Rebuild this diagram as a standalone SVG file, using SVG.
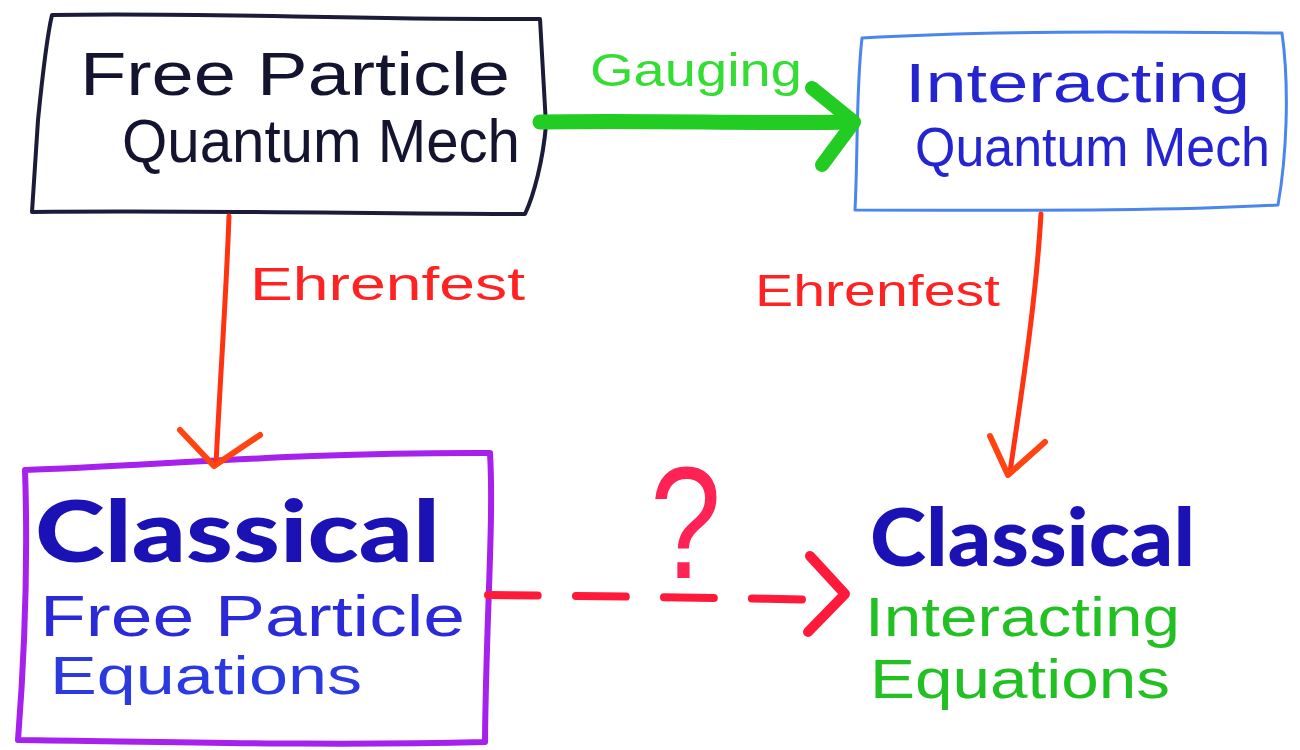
<svg xmlns="http://www.w3.org/2000/svg" width="1300" height="750" viewBox="0 0 1300 750">
<style>
.hand{font-family:"Liberation Sans","DejaVu Sans",sans-serif;}
.bold{font-family:"Lato","Liberation Sans",sans-serif;font-weight:900;}
.box{fill:none;stroke-linejoin:round;stroke-linecap:round;}
.conn{fill:none;stroke-linecap:round;stroke-linejoin:round;}
</style>
<rect width="1300" height="750" fill="#ffffff"/>
<g id="node-free-qm">
<path class="box" stroke="#1c1c3a" stroke-width="4" d="M52,15 C200,12 350,20 540,19 L546,125 C543,160 534,195 525,214 C380,214 200,210 32,212 L38,120 C42,80 46,40 52,15 Z"/>
<text class="hand" x="80" y="95" font-size="62" fill="#141430" textLength="430" lengthAdjust="spacingAndGlyphs">Free Particle</text>
<text class="hand" x="122" y="162" font-size="62" fill="#141430" textLength="398" lengthAdjust="spacingAndGlyphs">Quantum Mech</text>
</g>
<g id="node-int-qm">
<path class="box" stroke="#4a86ee" stroke-width="3" d="M862,38 C1000,30 1150,32 1282,33 C1290,90 1286,160 1278,205 C1150,212 1000,210 855,210 C858,150 856,90 862,38 Z"/>
<text class="hand" x="905" y="102" font-size="55" fill="#2424d0" textLength="345" lengthAdjust="spacingAndGlyphs">Interacting</text>
<text class="hand" x="915" y="166" font-size="55" fill="#2424d0" textLength="355" lengthAdjust="spacingAndGlyphs">Quantum Mech</text>
</g>
<g id="node-classical-free">
<path class="box" stroke="#a620ee" stroke-width="6" d="M25,470 C150,466 300,452 490,453 C494,520 486,620 485,742 C330,746 180,742 18,740 C25,650 28,560 25,470 Z"/>
<text class="bold" x="35" y="562" font-size="86" fill="#1a12b4" textLength="405" lengthAdjust="spacingAndGlyphs">Classical</text>
<text class="hand" x="40" y="636" font-size="58" fill="#2a2ad8" textLength="425" lengthAdjust="spacingAndGlyphs">Free Particle</text>
<text class="hand" x="50" y="694" font-size="54" fill="#2a3ae0" textLength="312" lengthAdjust="spacingAndGlyphs">Equations</text>
</g>
<g id="node-classical-int">
<text class="bold" x="870" y="566" font-size="80" fill="#1a12b4" textLength="325" lengthAdjust="spacingAndGlyphs">Classical</text>
<text class="hand" x="865" y="636" font-size="56" fill="#22c022" textLength="315" lengthAdjust="spacingAndGlyphs">Interacting</text>
<text class="hand" x="870" y="698" font-size="56" fill="#22c022" textLength="300" lengthAdjust="spacingAndGlyphs">Equations</text>
</g>
<g id="connectors">
<path class="conn" stroke="#22cc22" stroke-width="15" d="M540,122 C650,120 760,124 852,122"/>
<path class="conn" stroke="#22cc22" stroke-width="14" d="M812,88 L854,122 L822,165"/>
<text class="hand" x="590" y="86" font-size="46" fill="#33dd33" textLength="212" lengthAdjust="spacingAndGlyphs">Gauging</text>

<path class="conn" stroke="#ff3311" stroke-width="5" d="M229,216 C226,300 220,380 216,465"/>
<path class="conn" stroke="#ff4411" stroke-width="6" d="M180,430 L214,466 L260,435"/>
<text class="hand" x="250" y="300" font-size="46" fill="#ff2222" textLength="275" lengthAdjust="spacingAndGlyphs">Ehrenfest</text>

<path class="conn" stroke="#ff3311" stroke-width="5" d="M1041,214 C1036,300 1022,390 1010,472"/>
<path class="conn" stroke="#ff4411" stroke-width="6" d="M990,436 L1008,475 L1045,442"/>
<text class="hand" x="755" y="306" font-size="44" fill="#ff2222" textLength="245" lengthAdjust="spacingAndGlyphs">Ehrenfest</text>

<path class="conn" stroke="#ff1a3a" stroke-width="8" d="M488,595 C600,596 720,598 838,600" stroke-dasharray="50,38"/>
<path class="conn" stroke="#ff1a3a" stroke-width="10" d="M810,556 L845,594 L808,632"/>
<text class="hand" transform="translate(650,578) scale(0.8,1)" font-size="160" fill="#ff2255">?</text>
</g>
</svg>
